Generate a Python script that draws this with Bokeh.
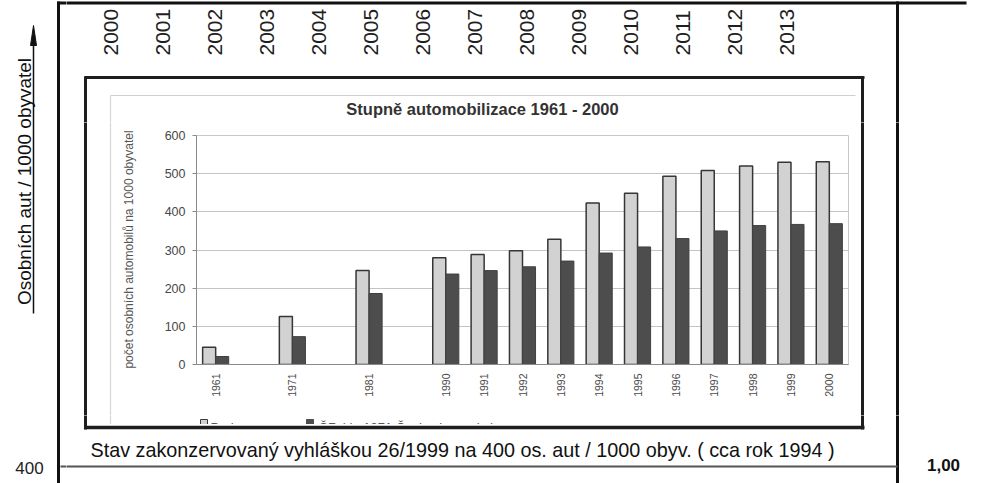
from math import pi
from bokeh.plotting import figure
from bokeh.layouts import column, row
from bokeh.models import Range1d, FixedTicker, ColumnDataSource
from bokeh.core.properties import value
from bokeh.embed import file_html
from bokeh.resources import INLINE

# ---------------- data ----------------
top_years = ["2000", "2001", "2002", "2003", "2004", "2005", "2006",
             "2007", "2008", "2009", "2010", "2011", "2012", "2013"]
categories = ["1961", "1971", "1981", "1990", "1991", "1992", "1993",
              "1994", "1995", "1996", "1997", "1998", "1999", "2000"]
# axis slots (blank slots keep the gaps between 1961, 1971, 1981 and 1990)
slots = ["1961", "", "1971", "", "1981", "", "1990", "1991", "1992",
         "1993", "1994", "1995", "1996", "1997", "1998", "1999", "2000"]
praha = [45, 126, 246, 280, 288, 298, 328, 423, 449, 493, 508, 520, 530, 531]
cr = [21, 73, 186, 237, 246, 256, 271, 292, 308, 330, 350, 364, 367, 369]
y_ticks = [0, 100, 200, 300, 400, 500, 600]

chart_title = "Stupně automobilizace 1961 - 2000"
y_title = "počet osobních automobilů na 1000 obyvatel"
legend_praha = "Praha"
legend_cr = "ČR (do 1971 Československo)"
side_title = "Osobních aut / 1000 obyvatel"
note = "Stav zakonzervovaný vyhláškou 26/1999 na 400 os. aut / 1000 obyv. ( cca rok 1994 )"
left_value = "400"
right_value = "1,00"

SANS = "Liberation Sans"

# ---------------- decoration lines (page pixel coordinates) ----------------
deco = [
    # light frame of the scanned chart
    (110, 95, 855, 95, "#cfcfcf", 1.2),
    (110, 95, 110, 425, "#d6d6d6", 1.2),
    # image box
    (84, 77, 864, 77, "#1e1e1e", 3),
    (85, 76, 85, 429, "#1e1e1e", 3),
    (862, 76, 862, 429, "#1e1e1e", 3),
    # outer drawing frame
    (57, 2.5, 966, 2.5, "#111111", 3),
    (58, 1, 58, 483, "#111111", 3),
    (897, 1, 897, 483, "#111111", 3),
    (60, 466, 897, 466, "#555555", 2),
]
box_bottom = (84, 427, 864, 427, "#1e1e1e", 3.5)


def draw_line(f, seg, X0, X1, Y0, Y1):
    x1, y1, x2, y2, c, w = seg
    if y1 == y2:   # horizontal
        l, r = max(min(x1, x2), X0 - 3), min(max(x1, x2), X1 + 3)
        t, b = y1 - w / 2, y1 + w / 2
    else:          # vertical
        t, b = max(min(y1, y2), Y0 - 3), min(max(y1, y2), Y1 + 3)
        l, r = x1 - w / 2, x1 + w / 2
    if l >= r or t >= b or r < X0 - 3 or l > X1 + 3 or b < Y0 - 3 or t > Y1 + 3:
        return
    f.quad(left=[l], right=[r], top=[t], bottom=[b], fill_color=c, line_color=None)


def strip(X0, X1, Y0, Y1):
    f = figure(width=X1 - X0, height=Y1 - Y0,
               x_range=Range1d(X0, X1), y_range=Range1d(Y1, Y0),
               output_backend="svg", toolbar_location=None, title=None,
               min_border=0, x_axis_location=None, y_axis_location=None)
    f.frame_align = False
    f.grid.visible = False
    f.outline_line_color = None
    f.background_fill_color = "white"
    f.border_fill_color = "white"
    for seg in deco:
        draw_line(f, seg, X0, X1, Y0, Y1)
    return f


def txt(f, X, Y, t, size, color="#222222", align="left", baseline="middle",
        angle=0.0, style="normal"):
    f.text(x=[X], y=[Y], text=[t], text_font=value(SANS), text_font_size=size,
           text_color=color, text_align=align, text_baseline=baseline,
           angle=angle, text_font_style=style)


# left column (x 0..66, full height)
left_col = strip(0, 66, 0, 483)
txt(left_col, 24, 181, side_title, "19px", "#111111", "center", "middle", angle=pi / 2)
left_col.quad(left=[32.25], right=[33.75], top=[40], bottom=[313],
              fill_color="#111111", line_color=None)
left_col.patch(x=[33, 30, 36], y=[25, 45, 45], fill_color="#111111", line_color="#111111")
txt(left_col, 29, 467, left_value, "17px", "#222222", "center", "middle")

# top strip (x 66..981, y 0..122)
top = strip(66, 981, 0, 122)
for i, yr in enumerate(top_years):
    txt(top, 110 + i * 52.0, 55, yr, "21px", "#1f1f1f", "left", "middle", angle=pi / 2)
txt(top, 482, 108, chart_title, "16.5px", "#333333", "center", "middle", style="bold")

# middle-left strip (x 66..138, y 122..415)
mid_left = strip(66, 138, 122, 415)
txt(mid_left, 128, 249, y_title, "12px", "#555555", "center", "middle", angle=pi / 2)

# chart (x 138..856, y 122..415), frame 196..848 x 135..364
chart = figure(width=718, height=293, x_range=Range1d(-0.5, len(slots) - 0.5),
               y_range=Range1d(0, 600), output_backend="svg",
               toolbar_location=None, title=None,
               min_border_left=58, min_border_right=8,
               min_border_top=13, min_border_bottom=51)
chart.frame_align = False
chart.background_fill_color = "white"
chart.border_fill_color = "white"
chart.outline_line_color = "#c8c8c8"
chart.xgrid.grid_line_color = None
chart.ygrid.grid_line_color = "#c4c4c4"

chart.yaxis.ticker = FixedTicker(ticks=y_ticks, minor_ticks=[])
chart.yaxis.axis_line_color = "#8a8a8a"
chart.yaxis.major_tick_line_color = "#8a8a8a"
chart.yaxis.major_tick_out = 4
chart.yaxis.major_tick_in = 0
chart.yaxis.minor_tick_line_color = None
chart.yaxis.major_label_text_font = SANS
chart.yaxis.major_label_text_font_size = "12.5px"
chart.yaxis.major_label_text_color = "#474747"
chart.yaxis.major_label_standoff = 7

slot_pos = [slots.index(c) for c in categories]
chart.xaxis.ticker = FixedTicker(ticks=slot_pos, minor_ticks=[])
chart.xaxis.major_label_overrides = {i: c for i, c in zip(slot_pos, categories)}
chart.xaxis.axis_line_color = "#8a8a8a"
chart.xaxis.major_tick_line_color = None
chart.xaxis.minor_tick_line_color = None
chart.xaxis.major_tick_out = 0
chart.xaxis.major_label_orientation = pi / 2
chart.xaxis.major_label_text_font = SANS
chart.xaxis.major_label_text_font_size = "10.5px"
chart.xaxis.major_label_text_color = "#4a4a4a"
chart.xaxis.major_label_standoff = 9

src = ColumnDataSource(dict(x=slot_pos, praha=praha, cr=cr,
                            xp=[v - 0.17 for v in slot_pos],
                            xc=[v + 0.17 for v in slot_pos]))
chart.vbar(x="xp", top="praha", width=0.34, source=src,
           fill_color="#d2d2d2", line_color="#363636", line_width=1.5)
chart.vbar(x="xc", top="cr", width=0.34, source=src,
           fill_color="#4d4d4d", line_color="#404040", line_width=1)

# middle-right strip (x 856..981, y 122..415)
mid_right = strip(856, 981, 122, 415)

# bottom strip (x 66..981, y 415..483)
bottom = strip(66, 981, 415, 483)
bottom.quad(left=[200], right=[207], top=[419], bottom=[427],
            fill_color="#d2d2d2", line_color="#3a3a3a", line_width=1)
txt(bottom, 210, 427, legend_praha, "13px", "#555555", "left", "alphabetic")
bottom.quad(left=[306], right=[313], top=[419], bottom=[427],
            fill_color="#4d4d4d", line_color="#4d4d4d", line_width=1)
txt(bottom, 318, 427, legend_cr, "13px", "#555555", "left", "alphabetic")
bottom.quad(left=[87], right=[860], top=[423.5], bottom=[436],
            fill_color="white", line_color=None)
draw_line(bottom, box_bottom, 66, 981, 415, 483)
txt(bottom, 90, 449, note, "19.8px", "#111111", "left", "middle")
txt(bottom, 943, 464, right_value, "17px", "#111111", "center", "middle", style="bold")

page = row(left_col,
           column(top, row(mid_left, chart, mid_right, spacing=0), bottom, spacing=0),
           spacing=0)

open("out.html", "w").write(file_html(page, INLINE))
